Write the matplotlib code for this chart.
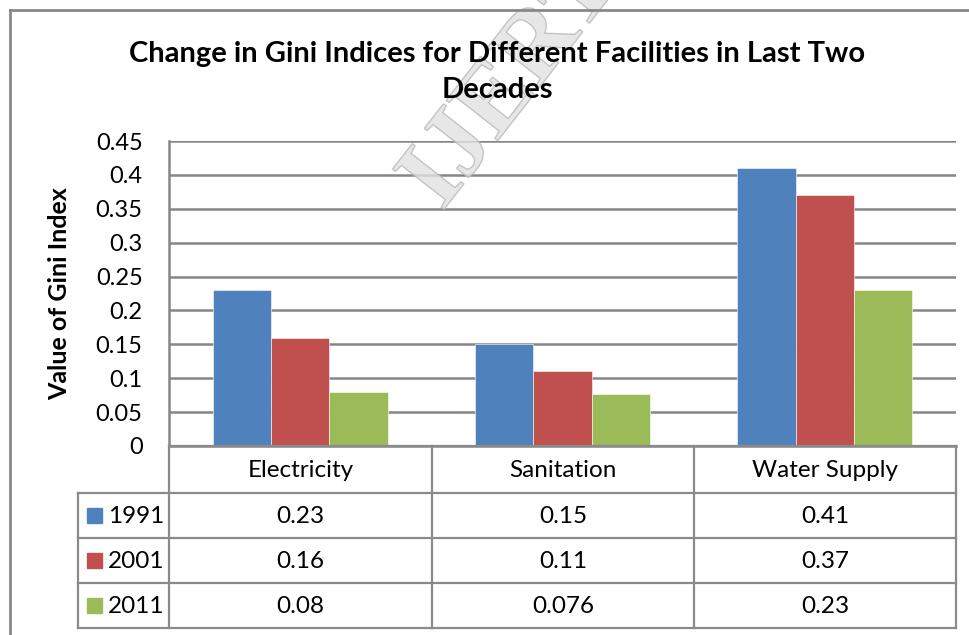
import matplotlib
matplotlib.use("Agg")
import matplotlib.pyplot as plt
import numpy as np
from matplotlib.lines import Line2D
from matplotlib.patches import Rectangle, PathPatch
from matplotlib.textpath import TextPath
from matplotlib.font_manager import FontProperties
import matplotlib.transforms as mtransforms

plt.rcParams['font.family'] = ['Lato', 'DejaVu Sans']

categories = ["Electricity", "Sanitation", "Water Supply"]
years = ["1991", "2001", "2011"]
v1991 = [0.23, 0.15, 0.41]
v2001 = [0.16, 0.11, 0.37]
v2011 = [0.08, 0.076, 0.23]
table_text = [["0.23", "0.15", "0.41"],
              ["0.16", "0.11", "0.37"],
              ["0.08", "0.076", "0.23"]]
yticks = [0, 0.05, 0.1, 0.15, 0.2, 0.25, 0.3, 0.35, 0.4, 0.45]
ytick_labels = ["0", "0.05", "0.1", "0.15", "0.2", "0.25", "0.3", "0.35", "0.4", "0.45"]
title = "Change in Gini Indices for Different Facilities in Last Two\nDecades"
ylabel = "Value of Gini Index"
watermark = "IJERT  IJERT"
colors = ["#4F81BD", "#C0504D", "#9BBB59"]
grid_c = "#868686"

W, H = 970, 635
fig = plt.figure(figsize=(W / 100, H / 100), dpi=100)

def fx(px):
    return px / W

def fy(py):
    return 1 - py / H

FS = 17.5

# plot area
L, R, T, B = 169, 956, 141, 446
ax = fig.add_axes([fx(L), fy(B), fx(R - L), (B - T) / H])
series = [v1991, v2001, v2011]
x = np.arange(len(categories))
bw = 0.222
for i, s in enumerate(series):
    ax.bar(x + (i - 1) * bw, s, width=bw, color=colors[i], edgecolor="white",
           linewidth=0.4, zorder=3)
ax.set_xlim(-0.5, len(categories) - 0.5)
ax.set_ylim(0, 0.45)
ax.set_yticks(yticks)
ax.set_yticklabels(ytick_labels, fontsize=17)
ax.tick_params(axis="y", length=0, pad=19)
ax.set_xticks([])
ax.grid(axis="y", color=grid_c, linewidth=1.8, zorder=0)
for sp in ["top", "right"]:
    ax.spines[sp].set_visible(False)
ax.spines["left"].set_color(grid_c)
ax.spines["left"].set_linewidth(1.8)
ax.spines["bottom"].set_color(grid_c)
ax.spines["bottom"].set_linewidth(1.8)
ax.set_ylabel(ylabel, fontsize=18, fontweight="bold")
ax.yaxis.set_label_coords((71 - L) / (R - L), 0.5)

# outer chart border
fig.add_artist(Line2D([fx(10), fx(10)], [fy(10), fy(640)], color="#888888", lw=2))
fig.add_artist(Line2D([fx(10), fx(975)], [fy(10), fy(10)], color="#888888", lw=2))

# watermark
fp = FontProperties(family="Liberation Serif", weight="bold")
tp = TextPath((0, 0), watermark, size=100, prop=fp)
tr = mtransforms.Affine2D().rotate_deg(52).translate(442, H - 212)
patch = PathPatch(tp, transform=tr, facecolor="#e2e2e2", edgecolor="#b8b8b8",
                  lw=1.0, alpha=0.8, zorder=1)
fig.add_artist(patch)

# title
fig.text(fx(497), fy(72), title, ha="center", va="center", fontsize=21,
         fontweight="bold", linespacing=1.5, zorder=2)

# data table
col_x = [78, 169, 432, 694, 956]
row_y = [446, 493, 538, 583, 628]
tc = "#8a8a8a"
lw = 1.6
for cx in col_x[1:]:
    fig.add_artist(Line2D([fx(cx), fx(cx)], [fy(row_y[0]), fy(row_y[-1])], color=tc, lw=lw))
fig.add_artist(Line2D([fx(col_x[0]), fx(col_x[0])], [fy(row_y[1]), fy(row_y[-1])], color=tc, lw=lw))
fig.add_artist(Line2D([fx(col_x[1]), fx(col_x[-1])], [fy(row_y[0]), fy(row_y[0])], color=tc, lw=lw))
for ry in row_y[1:]:
    fig.add_artist(Line2D([fx(col_x[0]), fx(col_x[-1])], [fy(ry), fy(ry)], color=tc, lw=lw))

for j, c in enumerate(categories):
    cxm = (col_x[j + 1] + col_x[j + 2]) / 2
    fig.text(fx(cxm), fy((row_y[0] + row_y[1]) / 2 + 1), c, ha="center", va="center", fontsize=FS)
for i, yr in enumerate(years):
    cym = (row_y[i + 1] + row_y[i + 2]) / 2
    fig.add_artist(Rectangle((fx(87), fy(cym + 7.5)), fx(15), 15 / H, color=colors[i]))
    fig.text(fx(108), fy(cym + 1), yr, ha="left", va="center", fontsize=FS)
    for j in range(3):
        cxm = (col_x[j + 1] + col_x[j + 2]) / 2
        fig.text(fx(cxm), fy(cym + 1), table_text[i][j], ha="center", va="center", fontsize=FS)

fig.savefig("out.png", dpi=100)
